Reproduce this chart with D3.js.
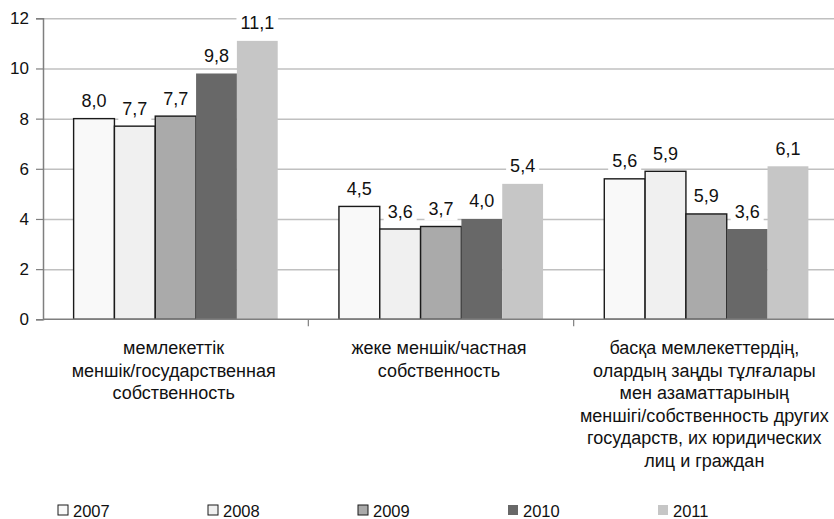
<!DOCTYPE html>
<html>
<head>
<meta charset="utf-8">
<script src="https://cdn.jsdelivr.net/npm/d3@7"></script>
<style>
  body { margin: 0; background: #fff; }
  svg { font-family: "Liberation Sans", Arial, sans-serif; }
</style>
</head>
<body>
<svg id="chart" width="834" height="519"></svg>
<script>
var categories = [
  ["мемлекеттік", "меншік/государственная", "собственность"],
  ["жеке меншік/частная", "собственность"],
  ["басқа мемлекеттердің,", "олардың заңды тұлғалары", "мен азаматтарының",
   "меншігі/собственность других", "государств, их юридических", "лиц и граждан"]
];
var years = ["2007", "2008", "2009", "2010", "2011"];
// bar heights as drawn
var values = [
  [8.0, 7.7, 8.1, 9.8, 11.1],
  [4.5, 3.6, 3.7, 4.0, 5.4],
  [5.6, 5.9, 4.2, 3.6, 6.1]
];
// labels as printed on the chart
var labels = [
  ["8,0", "7,7", "7,7", "9,8", "11,1"],
  ["4,5", "3,6", "3,7", "4,0", "5,4"],
  ["5,6", "5,9", "5,9", "3,6", "6,1"]
];
var yTicks = [0, 2, 4, 6, 8, 10, 12];

var colors = ["#f9f9f9", "#f0f0f0", "#aaaaaa", "#686868", "#c6c6c6"];
var outlined = [true, true, true, false, false];

var svg = d3.select("#chart");
var plotLeft = 43, plotRight = 839, plotTop = 18.3, plotBottom = 319.3;

var x0 = d3.scaleBand().domain(d3.range(categories.length)).range([plotLeft, plotRight]).padding(0);
var x1 = d3.scaleBand().domain(years).range([0, x0.bandwidth()]).paddingInner(0).paddingOuter(0.75);
var y = d3.scaleLinear().domain([0, 12]).range([plotBottom, plotTop]);

// gridlines
svg.append("g")
  .attr("transform", "translate(" + plotLeft + ",0)")
  .call(d3.axisLeft(y).tickValues(yTicks.slice(1)).tickSize(-(834 - plotLeft)).tickFormat(""))
  .call(function (g) {
    g.select(".domain").remove();
    g.selectAll("line").attr("stroke", "#c0c0c0").attr("stroke-width", 1.5);
  });

// bars
var groups = svg.append("g").selectAll("g")
  .data(values)
  .join("g")
  .attr("transform", function (d, i) { return "translate(" + x0(i) + ",0)"; });

groups.selectAll("rect")
  .data(function (d) { return d; })
  .join("rect")
  .attr("x", function (d, j) { return x1(years[j]); })
  .attr("y", function (d) { return y(d); })
  .attr("width", x1.bandwidth())
  .attr("height", function (d) { return y(0) - y(d); })
  .attr("fill", function (d, j) { return colors[j]; })
  .attr("stroke", function (d, j) { return outlined[j] ? "#1a1a1a" : "none"; })
  .attr("stroke-width", 1.4);

// value labels with white boxes
groups.each(function (d, i) {
  var g = d3.select(this);
  d.forEach(function (v, j) {
    var cx = x1(years[j]) + x1.bandwidth() / 2;
    var cy = y(v) - 18;
    var t = g.append("text")
      .attr("class", "val")
      .attr("x", cx)
      .attr("y", cy + 6.5)
      .attr("text-anchor", "middle")
      .attr("font-size", 18)
      .attr("fill", "#111")
      .text(labels[i][j]);
    var w = t.node().getComputedTextLength();
    g.insert("rect", "text")
      .attr("x", cx - w / 2 - 4)
      .attr("y", cy - 12)
      .attr("width", w + 8)
      .attr("height", 24)
      .attr("fill", "#fff");
  });
});
groups.selectAll("text.val").raise();

// y axis
svg.append("g")
  .attr("transform", "translate(" + plotLeft + ",0)")
  .call(d3.axisLeft(y).tickValues(yTicks).tickSize(7).tickPadding(7).tickFormat(d3.format("d")))
  .call(function (g) {
    g.select(".domain").attr("stroke", "#7f7f7f").attr("stroke-width", 1.5);
    g.selectAll("line").attr("stroke", "#7f7f7f").attr("stroke-width", 1.2);
    g.selectAll("text").attr("font-size", 17).attr("fill", "#111")
      .attr("font-family", "Liberation Sans, Arial, sans-serif");
  });

// x axis
var xa = svg.append("g");
xa.append("line")
  .attr("x1", plotLeft).attr("x2", 834)
  .attr("y1", y(0)).attr("y2", y(0))
  .attr("stroke", "#7f7f7f").attr("stroke-width", 1.5);
xa.selectAll("line.tick")
  .data(d3.range(1, categories.length))
  .join("line")
  .attr("class", "tick")
  .attr("x1", function (i) { return x0(i); })
  .attr("x2", function (i) { return x0(i); })
  .attr("y1", y(0)).attr("y2", y(0) + 7)
  .attr("stroke", "#7f7f7f").attr("stroke-width", 1.2);

// category labels
svg.append("g").selectAll("text")
  .data(categories)
  .join("text")
  .attr("x", function (d, i) { return x0(i) + x0.bandwidth() / 2 - 2; })
  .attr("y", 354)
  .attr("text-anchor", "middle")
  .attr("font-size", 18)
  .attr("fill", "#111")
  .each(function (lines) {
    var t = d3.select(this);
    lines.forEach(function (s, k) {
      t.append("tspan").attr("x", t.attr("x")).attr("dy", k === 0 ? 0 : 22.6).text(s);
    });
  });

// legend
var legend = svg.append("g").selectAll("g")
  .data(years)
  .join("g")
  .attr("transform", function (d, j) { return "translate(" + (58 + j * 150) + ",505)"; });
legend.append("rect")
  .attr("width", 10).attr("height", 10)
  .attr("fill", function (d, j) { return colors[j]; })
  .attr("stroke", function (d, j) { return outlined[j] ? "#1a1a1a" : "none"; })
  .attr("stroke-width", 1);
legend.append("text")
  .attr("x", 15).attr("y", 11.5)
  .attr("font-size", 16.5)
  .attr("fill", "#111")
  .text(function (d) { return d; });
</script>
</body>
</html>
